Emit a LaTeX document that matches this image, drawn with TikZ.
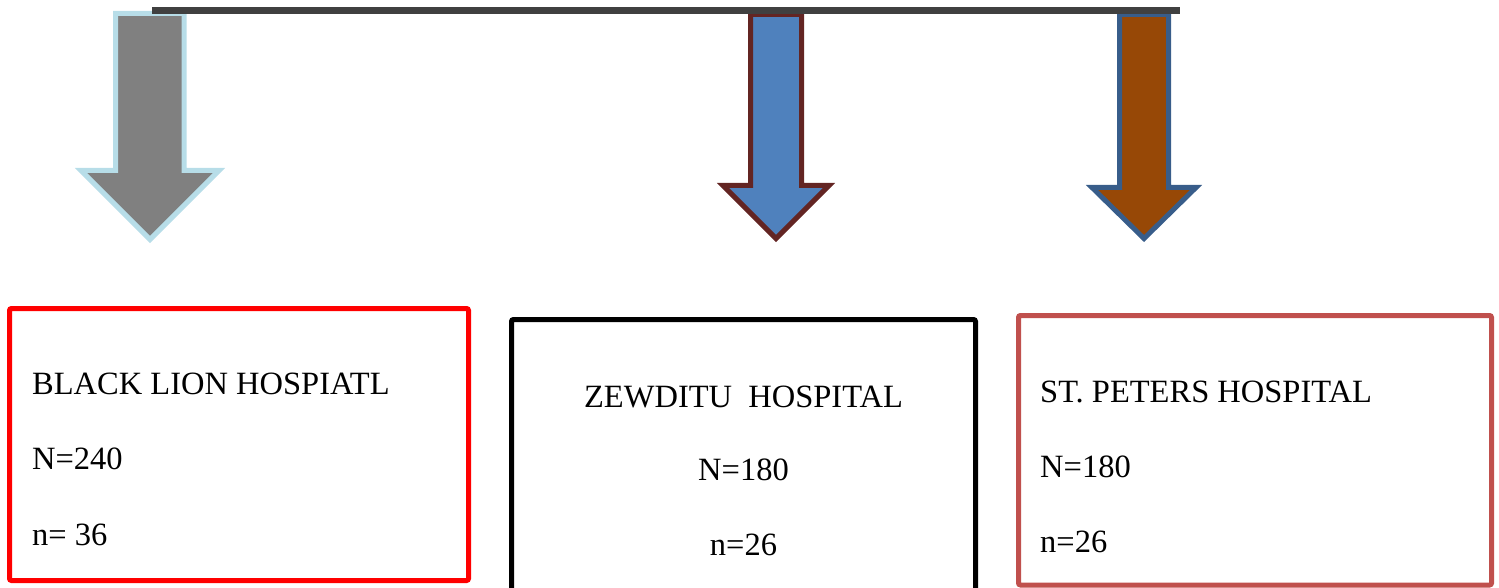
\documentclass[tikz,border=0pt]{standalone}
\usepackage{fontspec}
\setmainfont{Liberation Serif}
\definecolor{topline}{HTML}{404040}
\definecolor{arrAfill}{HTML}{808080}
\definecolor{arrAline}{HTML}{B7DDE8}
\definecolor{arrBfill}{HTML}{4F81BD}
\definecolor{arrBline}{HTML}{632523}
\definecolor{arrCfill}{HTML}{974806}
\definecolor{arrCline}{HTML}{385D8A}
\definecolor{boxA}{HTML}{FF0000}
\definecolor{boxB}{HTML}{000000}
\definecolor{boxC}{HTML}{C0504D}
\tikzset{
  blockarrow/.style={line width=5pt, line join=miter},
  hbox/.style={draw, line width=5pt, rounded corners=2pt, inner sep=0pt},
  lbl/.style={inner sep=0pt, font=\fontsize{32.5}{38}\selectfont}
}
\begin{document}
\begin{tikzpicture}[x=1pt,y=-1pt]
\useasboundingbox (0,0) rectangle (1499,588);
\clip (0,0) rectangle (1499,588);
% block arrows
\filldraw[blockarrow, fill=arrAfill, draw=arrAline]
  (115.5,13.5) -- (184,13.5) -- (184,170.5) -- (219,170.5) -- (150,239.5)
  -- (81,170.5) -- (115.5,170.5) -- cycle;
\filldraw[blockarrow, fill=arrBfill, draw=arrBline]
  (750.5,14.5) -- (801.5,14.5) -- (801.5,185.5) -- (829,185.5) -- (776,238.5)
  -- (723,185.5) -- (750.5,185.5) -- cycle;
\filldraw[blockarrow, fill=arrCfill, draw=arrCline]
  (1119.5,14.5) -- (1168.5,14.5) -- (1168.5,187.5) -- (1196,187.5) -- (1144,238.5)
  -- (1092,187.5) -- (1119.5,187.5) -- cycle;
% top line
\coordinate (lineL) at (152,11);
\coordinate (lineR) at (1180,11);
\draw[topline, line width=7pt] (lineL) -- (lineR);
% boxes
\node[hbox, draw=boxA, minimum width=459pt, minimum height=272pt] (boxA) at (239,444.5) {};
\node[hbox, draw=boxB, minimum width=464pt, minimum height=280.5pt] (boxB) at (743.5,459.75) {};
\node[hbox, draw=boxC, minimum width=473pt, minimum height=269.5pt] (boxC) at (1255,450.25) {};
% texts
\node[lbl, anchor=base west] (a1) at (32,394) {BLACK LION HOSPIATL};
\node[lbl, anchor=base west] (a2) at (32,469) {N=240};
\node[lbl, anchor=base west] (a3) at (32,545) {n= 36};
\node[lbl, anchor=base] (b1) at (743.5,407) {ZEWDITU\ \ HOSPITAL};
\node[lbl, anchor=base] (b2) at (743.5,480) {N=180};
\node[lbl, anchor=base] (b3) at (743.5,555) {n=26};
\node[lbl, anchor=base west] (c1) at (1040,402) {ST. PETERS HOSPITAL};
\node[lbl, anchor=base west] (c2) at (1040,477) {N=180};
\node[lbl, anchor=base west] (c3) at (1040,552) {n=26};
\end{tikzpicture}
\end{document}
